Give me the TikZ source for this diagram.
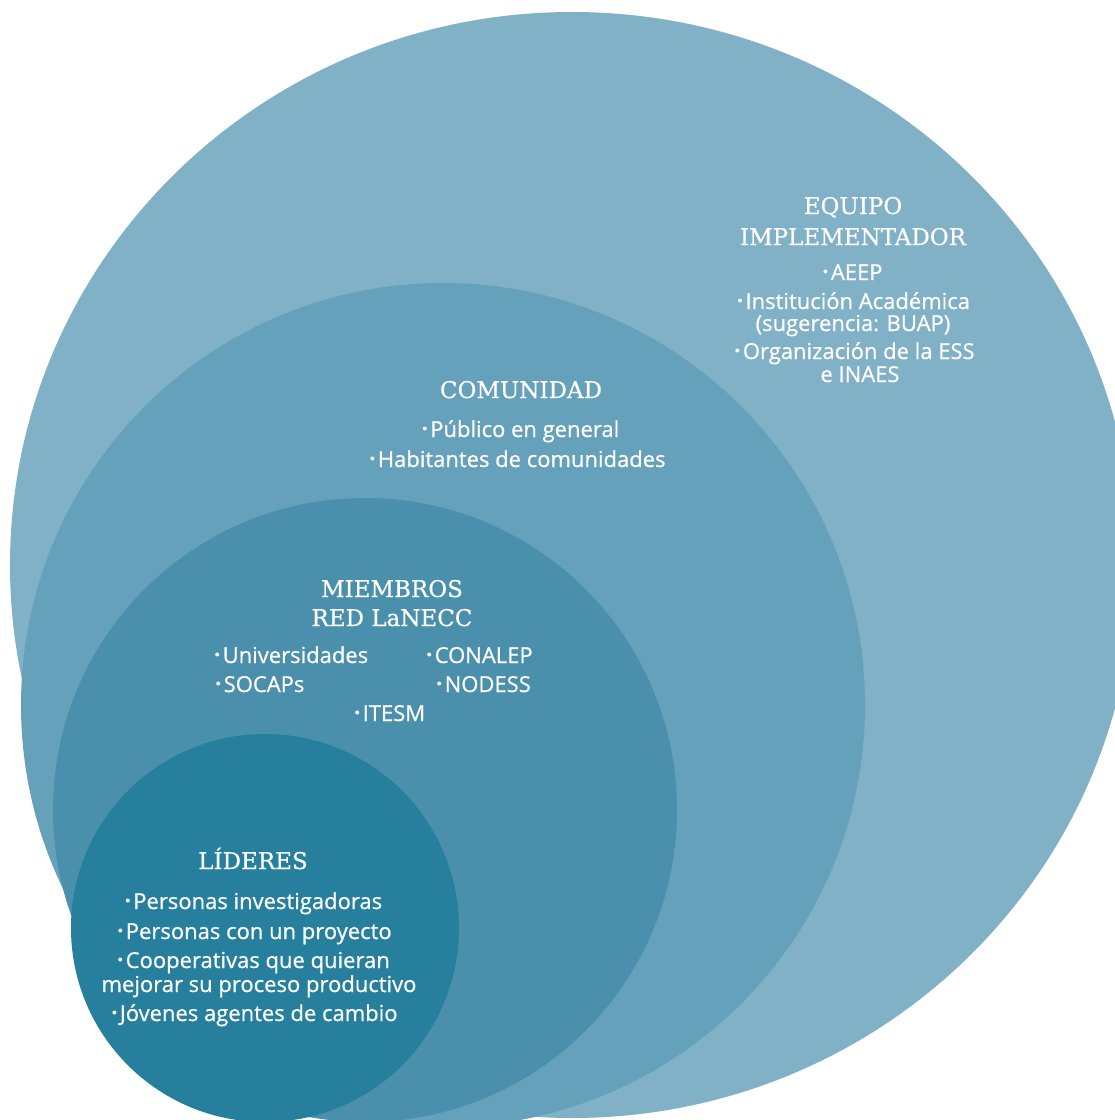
\documentclass[tikz,border=0pt]{standalone}
\usepackage{fontspec}
\setmainfont{Open Sans}
\newfontfamily\bodyfont{Open Sans}[FakeBold=0.7]
\newfontfamily\slab{DejaVu Serif}[FakeBold=0.5]
\definecolor{c1}{HTML}{80B1C6}
\definecolor{c2}{HTML}{65A1BA}
\definecolor{c3}{HTML}{4A90AD}
\definecolor{c4}{HTML}{267F9D}
\newcommand\bul{\raisebox{6.5pt}{\tikz\fill[white] (0,0) circle[radius=2pt];}\hspace{3.5pt}}
\tikzset{
  disc/.style={fill=#1, draw=none},
  head/.style={anchor=base, inner sep=0pt, text=white, font=\slab\fontsize{23}{23}\selectfont},
  item/.style={anchor=base, inner sep=0pt, text=white, font=\bodyfont\fontsize{22}{22}\selectfont},
  itemw/.style={item, anchor=base west}
}
\begin{document}
\begin{tikzpicture}[x=1pt,y=-1pt]
\useasboundingbox (0,0) rectangle (1115,1120);
\clip (0,0) rectangle (1115,1120);
\fill[white] (0,0) rectangle (1115,1120);
% circles
\path[disc=c1] (572,565) ellipse[x radius=562, y radius=553];
\path[disc=c2] (443,705) circle[radius=422];
\path[disc=c3] (365,810) circle[radius=312];
\path[disc=c4] (265,928) circle[radius=194];
% EQUIPO IMPLEMENTADOR
\node[head] (e1) at (853,214) {EQUIPO};
\node[head] (e2) at (853,245) {IMPLEMENTADOR};
\node[item] (e3) at (853,280) {\bul AEEP};
\node[item] (e4) at (854,309) {\bul Institución Académica};
\node[item] (e5) at (853,331) {(sugerencia: BUAP)};
\node[item] (e6) at (855,359) {\bul Organización de la ESS};
\node[item] (e7) at (860,382) {e INAES};
% COMUNIDAD
\node[head] (c1t) at (521,398) {COMUNIDAD};
\node[item] (c1a) at (521,437) {\bul Público en general};
\node[item] (c1b) at (518,467) {\bul Habitantes de comunidades};
% MIEMBROS
\node[head] (m1) at (392,597) {MIEMBROS};
\node[head] (m2) at (392,626) {RED LaNECC};
\node[itemw] (m3) at (215,663) {\bul Universidades};
\node[itemw] (m4) at (427,663) {\bul CONALEP};
\node[itemw] (m5) at (216,692) {\bul SOCAPs};
\node[itemw] (m6) at (437,692) {\bul NODESS};
\node[itemw] (m7) at (355,721) {\bul ITESM};
% LIDERES
\node[head] (l1) at (253,869) {LÍDERES};
\node[item] (l2) at (254,909) {\bul Personas investigadoras};
\node[item] (l3) at (255,939) {\bul Personas con un proyecto};
\node[item] (l4) at (254,968) {\bul Cooperativas que quieran};
\node[item] (l5) at (259,992) {mejorar su proceso productivo};
\node[item] (l6) at (255,1021) {\bul Jóvenes agentes de cambio};
\end{tikzpicture}
\end{document}
